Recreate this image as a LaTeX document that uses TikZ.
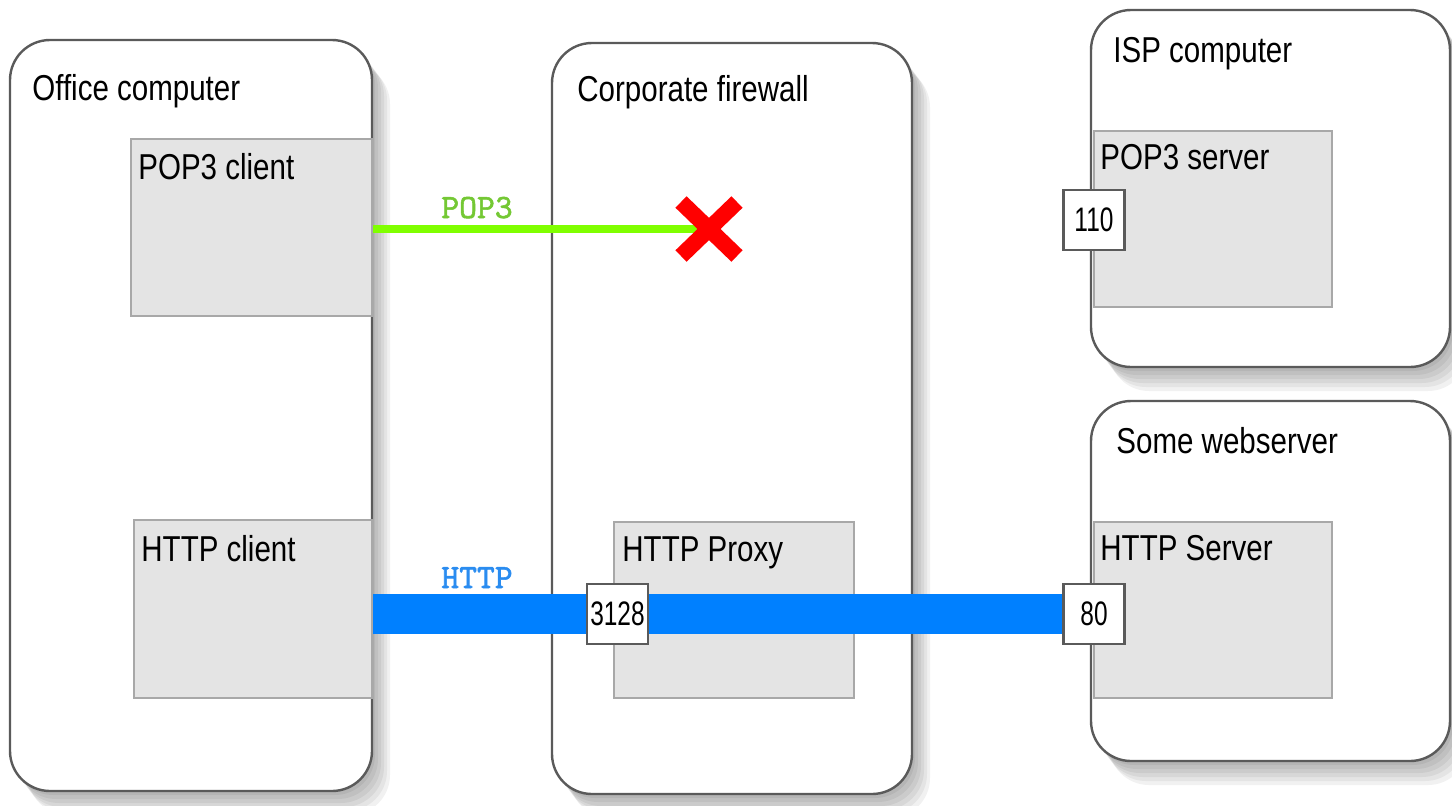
\documentclass[tikz,border=0pt]{standalone}
\usepackage{fontspec}
\setmainfont{Liberation Sans}
\newfontfamily\boxfont{Liberation Sans}[FakeStretch=0.82]
\newfontfamily\portfont{Liberation Sans}[FakeStretch=0.72]
\newfontfamily\protofont{lmmono10-regular.otf}[FakeBold=1.6]
\usetikzlibrary{fit,shadows}
\definecolor{edge}{HTML}{5A5A5A}
\definecolor{inedge}{HTML}{A8A8A8}
\definecolor{infill}{HTML}{E4E4E4}
\definecolor{popgreen}{HTML}{80FF00}
\definecolor{poptext}{HTML}{74C834}
\definecolor{httpblue}{HTML}{0080FF}
\definecolor{httptext}{HTML}{2A8CF0}
\definecolor{xred}{HTML}{FF0000}
\pgfdeclarelayer{top}
\pgfsetlayers{main,top}

\begin{document}
\begin{tikzpicture}[x=0.5pt,y=-0.5pt,
  softshadow/.style={
    general shadow={fill=black,opacity=.055,shadow xshift=1.5pt,shadow yshift=-2pt},
    general shadow={fill=black,opacity=.055,shadow xshift=3pt,shadow yshift=-4pt},
    general shadow={fill=black,opacity=.055,shadow xshift=4.5pt,shadow yshift=-6pt},
    general shadow={fill=black,opacity=.055,shadow xshift=6pt,shadow yshift=-8pt},
    general shadow={fill=black,opacity=.055,shadow xshift=7.5pt,shadow yshift=-10pt},
    general shadow={fill=black,opacity=.055,shadow xshift=9pt,shadow yshift=-12pt}},
  host/.style={draw=edge, line width=1.2pt, fill=white, rounded corners=20pt,
    inner sep=0pt, softshadow},
  proc/.style={draw=inedge, line width=1.2pt, fill=infill, inner sep=0pt},
  port/.style={draw=edge, line width=1.4pt, fill=white, minimum width=30.5pt,
    minimum height=30pt, inner sep=0pt,
    font=\portfont\fontsize{17pt}{17pt}\selectfont},
  title/.style={anchor=base west, inner sep=0pt,
    font=\boxfont\fontsize{18pt}{18pt}\selectfont},
  proto/.style={anchor=base, inner sep=0pt,
    font=\protofont\fontsize{17pt}{17pt}\selectfont},
]
\useasboundingbox (0,0) rectangle (1452,805);

% hosts
\node[host, fit={(10,40) (372,791)}] (office) {};
\node[host, fit={(552,43) (912,794)}] (firewall) {};
\node[host, fit={(1091,10) (1450,367)}] (isp) {};
\node[host, fit={(1091,401) (1450,761)}] (web) {};

% processes
\node[proc, fit={(131,139) (372,316)}] (popc) {};
\node[proc, fit={(134,520) (372,698)}] (httpc) {};
\node[proc, fit={(614,522) (854,698)}] (proxy) {};
\node[proc, fit={(1094,131) (1332,307)}] (pops) {};
\node[proc, fit={(1094,522) (1332,698)}] (https) {};

% titles
\node[title] (tOffice) at (32,100) {Office computer};
\node[title] (tFirewall) at (577,101) {Corporate firewall};
\node[title] (tIsp) at (1113,62) {ISP computer};
\node[title] (tWeb) at (1116,453) {Some webserver};
\node[title] (tPopc) at (138,179) {POP3 client};
\node[title] (tHttpc) at (141,561) {HTTP client};
\node[title] (tProxy) at (622,561) {HTTP Proxy};
\node[title] (tPops) at (1100,169) {POP3 server};
\node[title] (tHttps) at (1100,560) {HTTP Server};

% ports, kept above the connections
\begin{pgfonlayer}{top}
\node[port] (p110) at (1094,220) {110};
\node[port] (p80) at (1094,614) {80};
\node[port] (p3128) at (617.5,614) {3128};
\end{pgfonlayer}
\coordinate (xmark) at (709,229);

% connections
\draw[popgreen, line width=4pt] (popc.east |- xmark) -- (xmark);
\draw[httpblue, line width=20pt] (httpc.east |- p80) -- (p80.west);

% blocked connection
\draw[xred, line width=8pt] ([shift={(-28,-27)}]xmark) -- ([shift={(28,27)}]xmark);
\draw[xred, line width=8pt] ([shift={(28,-27)}]xmark) -- ([shift={(-28,27)}]xmark);

% protocol labels
\node[proto, text=poptext] (lPop) at (477,218) {POP3};
\node[proto, text=httptext] (lHttp) at (477,588) {HTTP};
\end{tikzpicture}
\end{document}
